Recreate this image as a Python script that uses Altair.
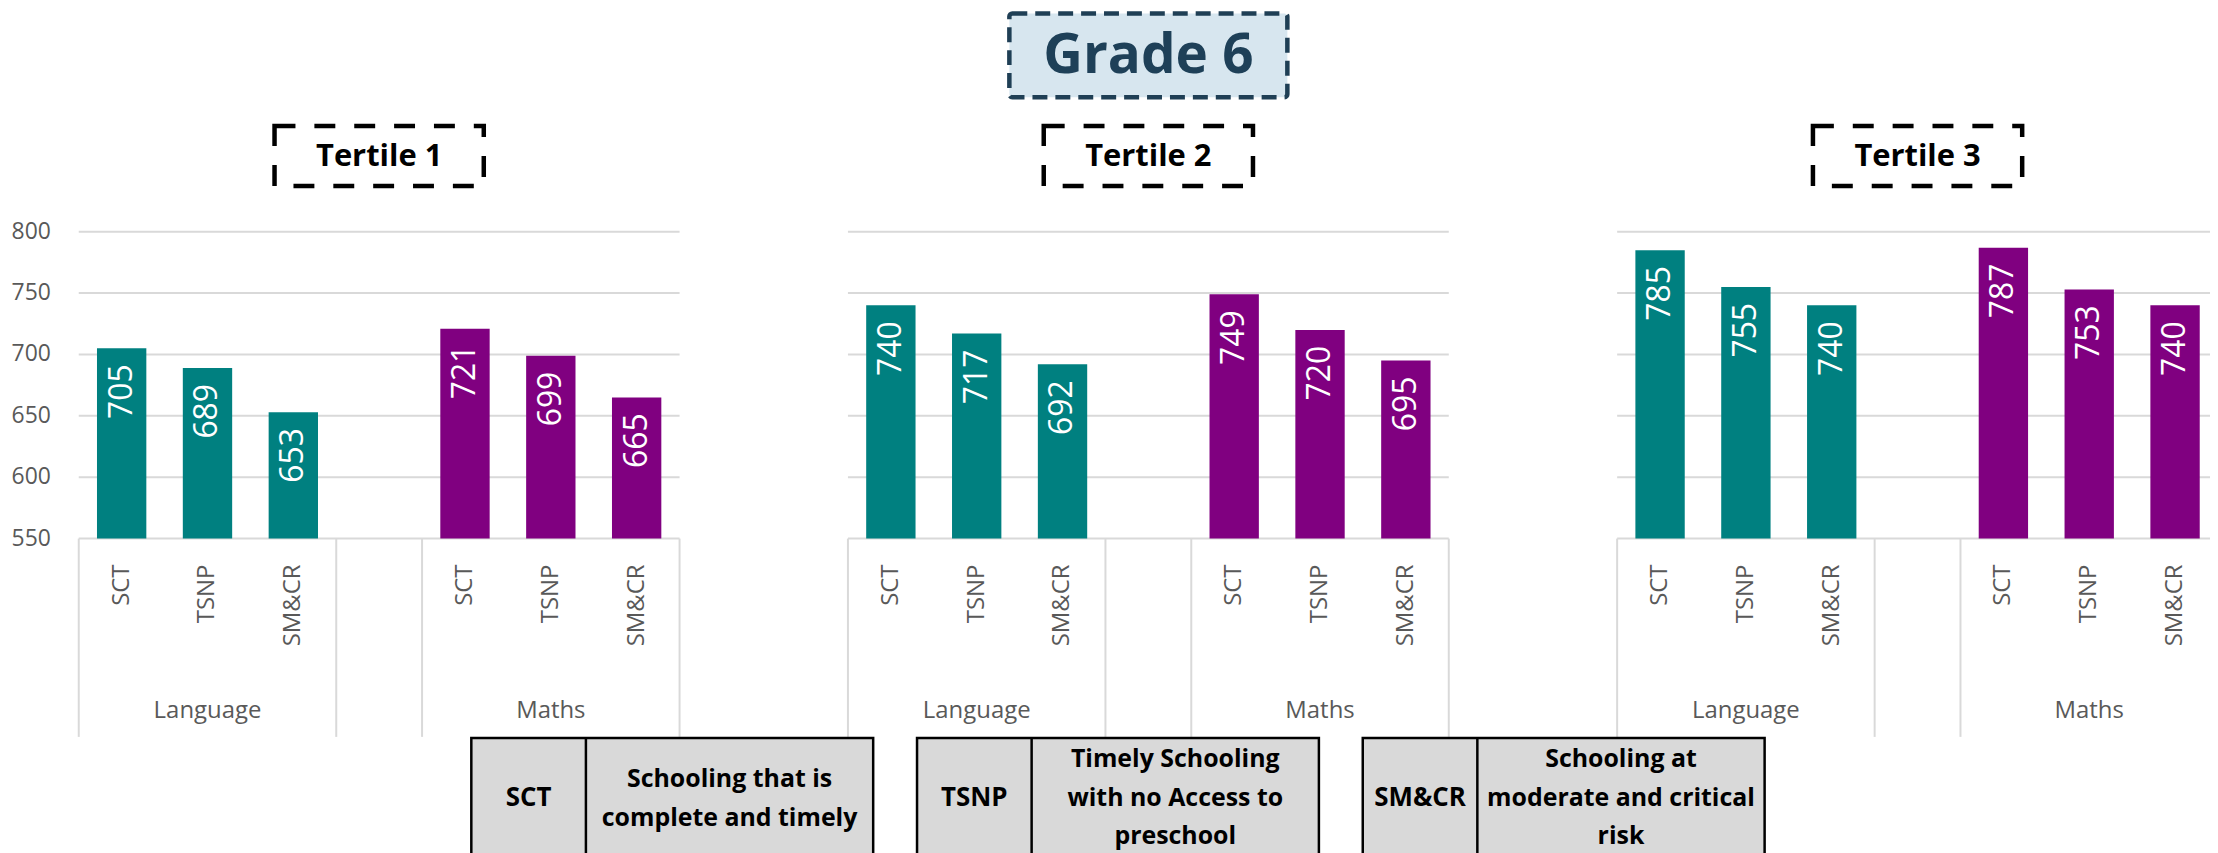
import altair as alt
import pandas as pd

# ---------------- data ----------------
tertiles = ["Tertile 1", "Tertile 2", "Tertile 3"]
subjects = ["Language", "Maths"]
groups = ["SCT", "TSNP", "SM&CR"]
language_scores = [[705, 689, 653], [740, 717, 692], [785, 755, 740]]
maths_scores = [[721, 699, 665], [749, 720, 695], [787, 753, 740]]
y_ticks = [550, 600, 650, 700, 750, 800]
grade_title = "Grade 6"
group_descriptions = [
    "Schooling that is\ncomplete and timely",
    "Timely Schooling\nwith no Access to\npreschool",
    "Schooling at\nmoderate and critical\nrisk",
]
subject_colors = ["#008080", "#800080"]

GAP = "gap"
slot_domain = [f"Language|{g}" for g in groups] + [GAP] + [f"Maths|{g}" for g in groups]

rows = []
for ti, t in enumerate(tertiles):
    for s, scores in zip(subjects, [language_scores, maths_scores]):
        for gi, g in enumerate(groups):
            rows.append({"tertile": t, "subject": s, "group": g,
                         "slot": f"{s}|{g}", "value": scores[ti][gi]})
df = pd.DataFrame(rows)
df_grid = pd.DataFrame([{"tertile": t, "tick": v} for t in tertiles for v in y_ticks])
df_panels = pd.DataFrame({"tertile": tertiles})
df_y = pd.DataFrame({"tick": y_ticks})
df_grade = pd.DataFrame({"tertile": [tertiles[1]], "title": [grade_title]})
df_leg = pd.DataFrame({"group": groups, "desc": group_descriptions})

# ---------------- scales ----------------
panel_scale = alt.Scale(type="band", domain=tertiles, range=[71, 2218],
                        paddingInner=0.2189, paddingOuter=0)
slot_scale = alt.Scale(domain=slot_domain, paddingInner=0.425, paddingOuter=0.2125)
y_scale = alt.Scale(domain=[550, 800], range=[531, 223], zero=False, nice=False)
legend_scale = alt.Scale(type="band", domain=groups, range=[465, 1763],
                         paddingInner=0.0984, paddingOuter=0)

FONT = "Open Sans"
GRAY_TXT = "#595959"
GRID = "#D9D9D9"

def px(**kw):
    return alt.X("tertile:N", scale=panel_scale, axis=None, **kw)

# gridlines per panel
grid = alt.Chart(df_grid).mark_rect(fillOpacity=0, stroke=GRID, strokeWidth=2).encode(
    x=px(),
    y=alt.Y("tick:Q", scale=y_scale, axis=None),
    y2="tick:Q",
)

# category separators under the axis (slot boundaries 0,3,4,7 of 7)
n_slots = len(slot_domain)
boundaries = [0, len(groups), len(groups) + 1, n_slots]
seps = [
    alt.Chart(df_panels).mark_rule(color=GRID, strokeWidth=2).encode(
        x=px(bandPosition=b / n_slots),
        y=alt.value(531), y2=alt.value(730),
    )
    for b in boundaries
]

# subject labels (Language / Maths)
subj_labels = []
for i, s in enumerate(subjects):
    center = (0 if i == 0 else len(groups) + 1) + len(groups) / 2
    d = df_panels.assign(subject=s)
    subj_labels.append(
        alt.Chart(d).mark_text(font=FONT, fontSize=24, color=GRAY_TXT, baseline="middle").encode(
            x=px(bandPosition=center / n_slots),
            y=alt.value(704),
            text="subject:N",
        )
    )

bars = alt.Chart(df).mark_bar().encode(
    x=px(),
    xOffset=alt.XOffset("slot:N", scale=slot_scale),
    y=alt.Y("value:Q", scale=y_scale, axis=None),
    y2=alt.datum(550),
    color=alt.Color("subject:N", scale=alt.Scale(domain=subjects, range=subject_colors), legend=None),
)

value_labels = alt.Chart(df).mark_text(
    angle=270, align="right", baseline="middle", dx=-16,
    color="white", fontSize=32, font=FONT,
).encode(
    x=px(),
    xOffset=alt.XOffset("slot:N", scale=slot_scale),
    y=alt.Y("value:Q", scale=y_scale, axis=None),
    text="value:Q",
)

tick_labels = alt.Chart(df).mark_text(
    angle=270, align="right", baseline="middle",
    color=GRAY_TXT, fontSize=24, font=FONT,
).encode(
    x=px(),
    xOffset=alt.XOffset("slot:N", scale=slot_scale),
    y=alt.value(557),
    text="group:N",
)

y_labels = alt.Chart(df_y).mark_text(
    align="right", baseline="middle", color=GRAY_TXT, fontSize=23, font=FONT,
).encode(
    x=alt.value(43),
    y=alt.Y("tick:Q", scale=y_scale, axis=None),
    text="tick:Q",
)

tert_boxes = alt.Chart(df_panels).mark_bar(
    width=210, fill="white", stroke="black", strokeWidth=4.5, strokeDash=[21, 19],
).encode(x=px(), y=alt.value(117), y2=alt.value(177))

tert_text = alt.Chart(df_panels).mark_text(
    font=FONT, fontSize=31, fontWeight="bold", color="black", baseline="middle",
).encode(x=px(), y=alt.value(148), text="tertile:N")

grade_box = alt.Chart(df_grade).mark_bar(
    width=279, fill="#D7E6EF", stroke="#1F3F55", strokeWidth=4.5,
    strokeDash=[15, 8], cornerRadius=3,
).encode(x=px(), y=alt.value(4), y2=alt.value(88))

grade_text = alt.Chart(df_grade).mark_text(
    font=FONT, fontSize=55, fontWeight="bold", color="#1E4058", baseline="middle",
).encode(x=px(), y=alt.value(47), text="title:N")

main = alt.layer(grid, *seps, *subj_labels, bars, value_labels, tick_labels, y_labels,
                 tert_boxes, tert_text, grade_box, grade_text)

# ---------------- legend tables ----------------
def lx(**kw):
    return alt.X("group:N", scale=legend_scale, axis=None, **kw)

abbr_w = 115 / 403.3
leg_rect = alt.Chart(df_leg).mark_rect(fill="#D9D9D9", stroke="black", strokeWidth=2.5).encode(
    x=lx(), y=alt.value(731), y2=alt.value(866))
leg_div = alt.Chart(df_leg).mark_rule(color="black", strokeWidth=2.5).encode(
    x=lx(bandPosition=abbr_w), y=alt.value(731), y2=alt.value(866))
leg_abbr = alt.Chart(df_leg).mark_text(
    font=FONT, fontSize=26, fontWeight="bold", color="black", baseline="middle").encode(
    x=lx(bandPosition=abbr_w / 2), y=alt.value(791), text="group:N")

# description blocks, vertically centred on the abbreviation (first line placed by block size)
leg_base = alt.Chart(df_leg).transform_calculate(
    nlines="length(split(datum.desc, '\\n'))"
)
desc_mark = dict(font=FONT, fontSize=25, fontWeight="bold", color="black",
                 baseline="middle", lineBreak="\n", lineHeight=39)
leg_desc2 = leg_base.transform_filter("datum.nlines == 2").mark_text(**desc_mark).encode(
    x=lx(bandPosition=(1 + abbr_w) / 2), y=alt.value(772), text="desc:N")
leg_desc3 = leg_base.transform_filter("datum.nlines == 3").mark_text(**desc_mark).encode(
    x=lx(bandPosition=(1 + abbr_w) / 2), y=alt.value(752), text="desc:N")

legend = alt.layer(leg_rect, leg_div, leg_abbr, leg_desc2, leg_desc3)

chart = alt.layer(main, legend).resolve_scale(x="independent").properties(
    width=2210, height=845,
    autosize=alt.AutoSizeParams(type="none"),
    padding=0,
).configure_view(stroke=None)

chart.save("out.html", embed_options={"renderer": "svg", "actions": False})
